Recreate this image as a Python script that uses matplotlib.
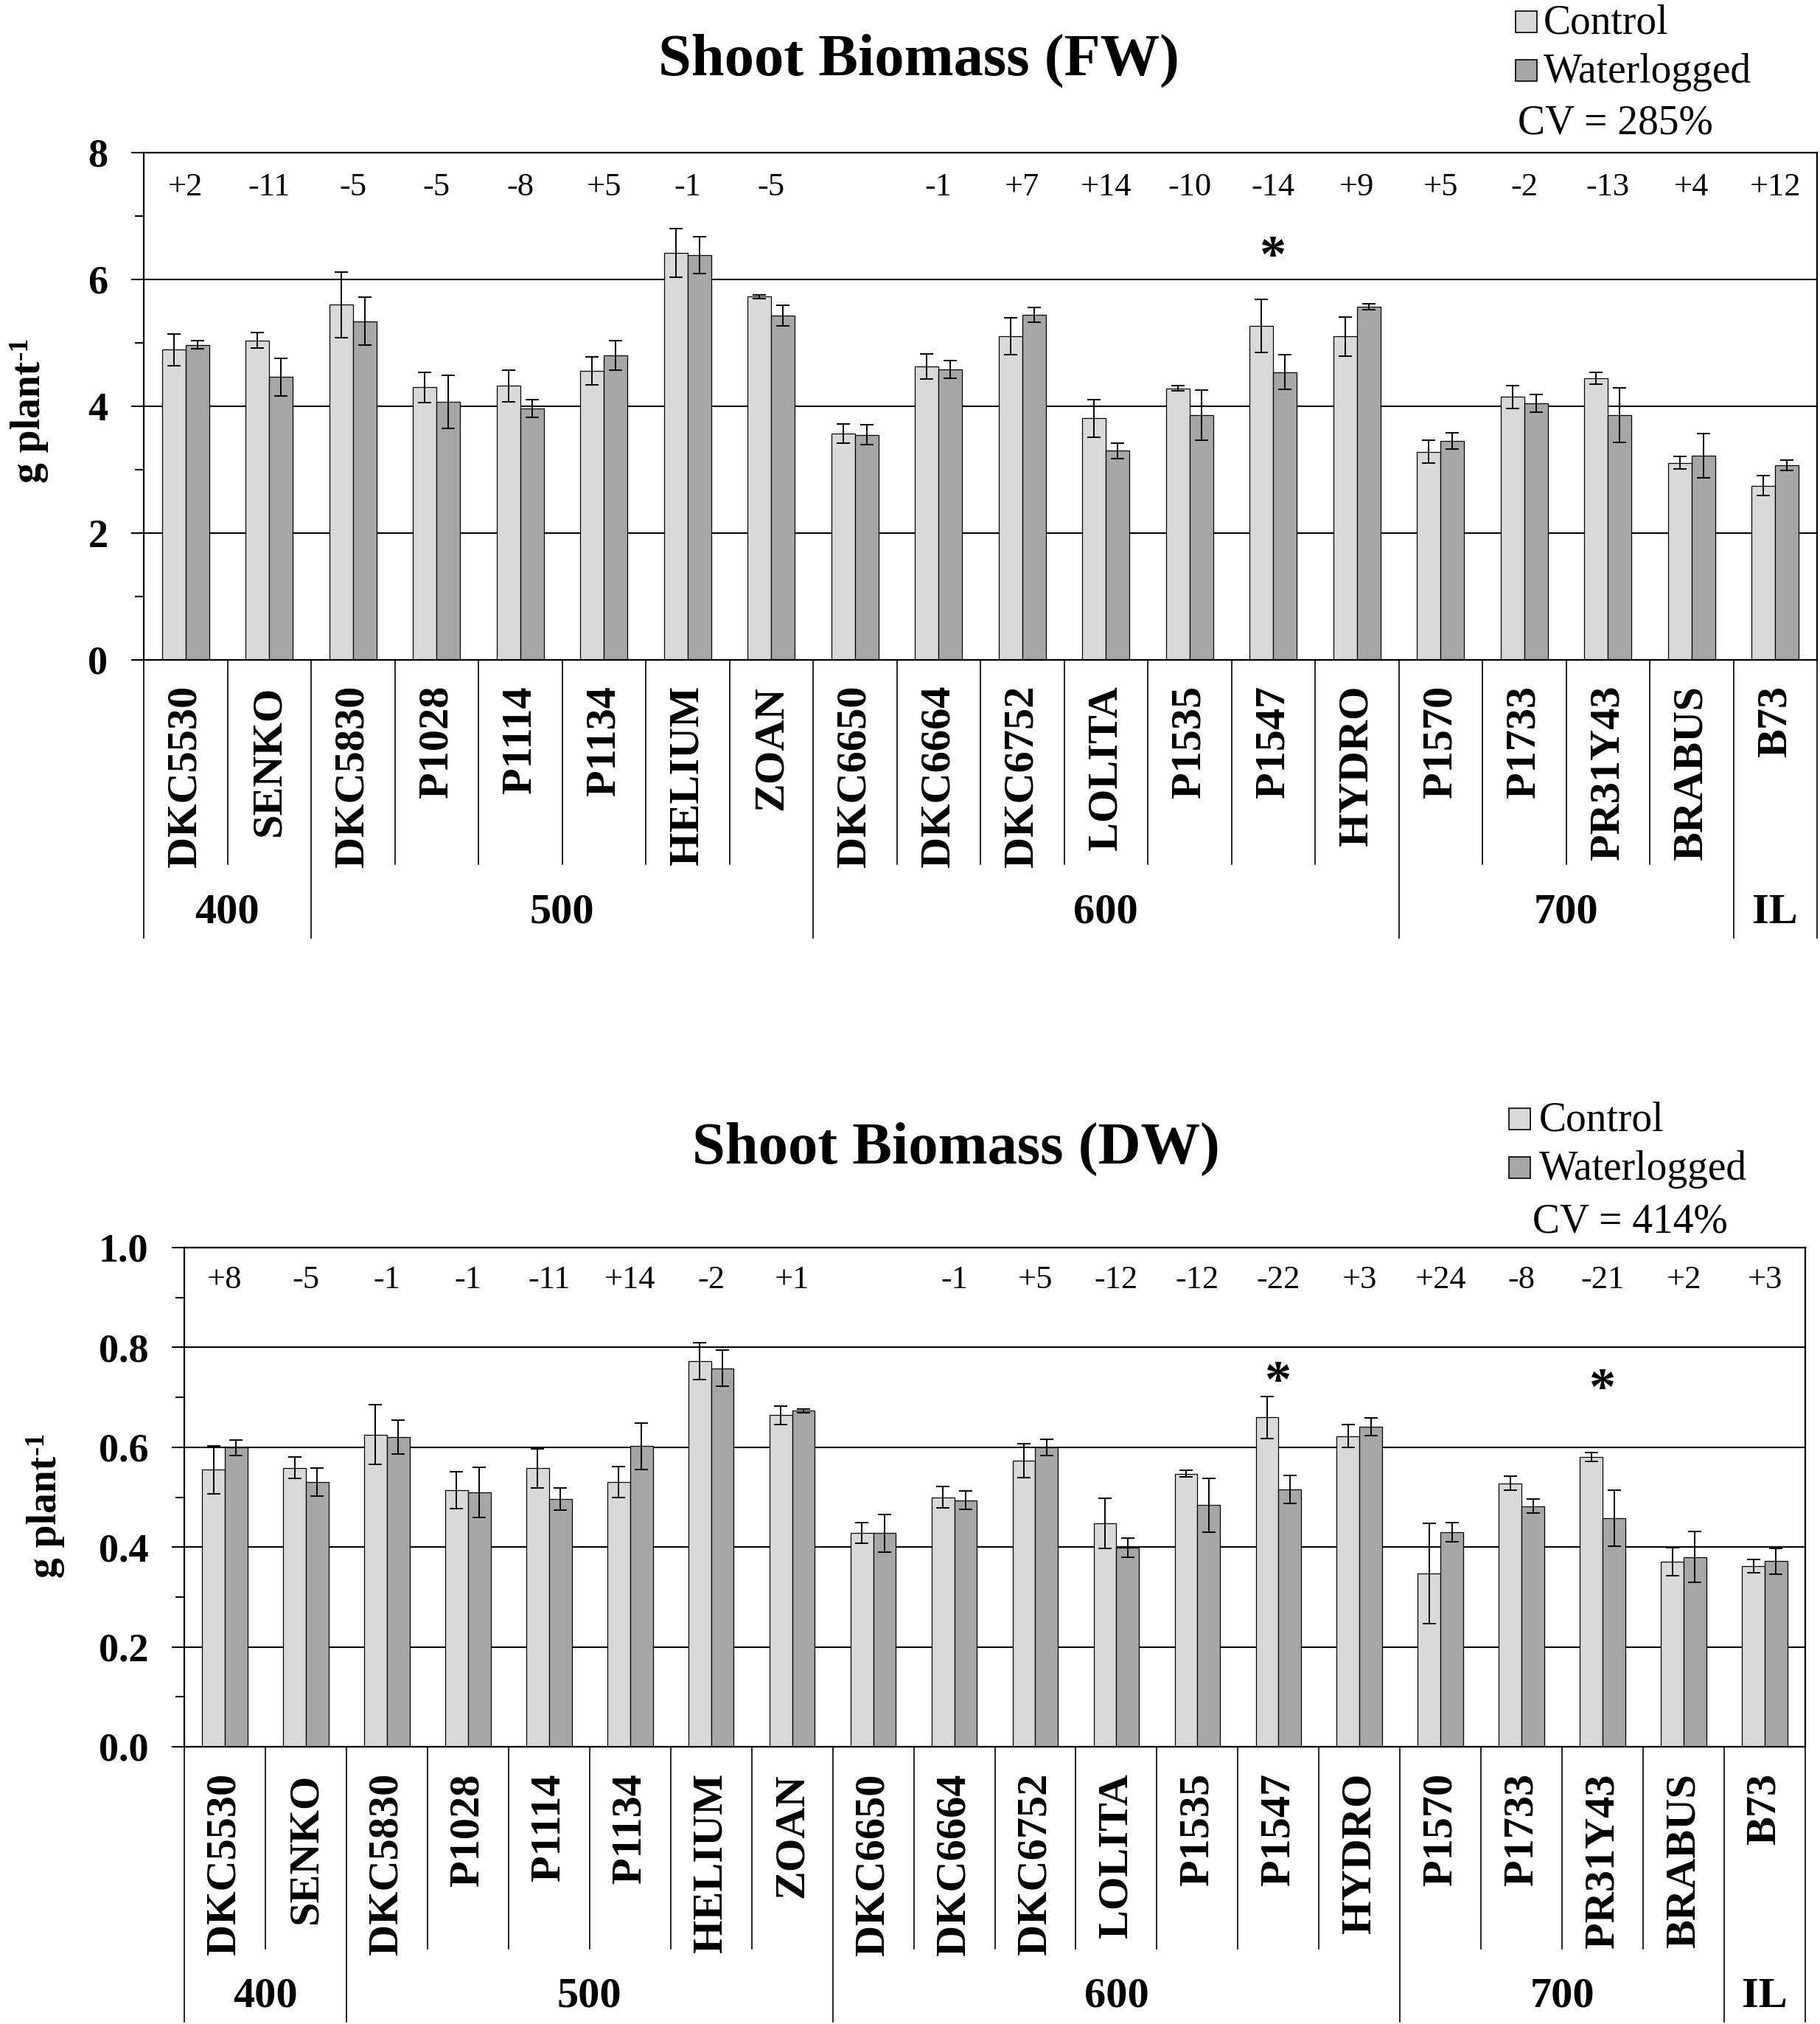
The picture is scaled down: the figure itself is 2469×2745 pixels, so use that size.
import matplotlib
matplotlib.use("Agg")
import matplotlib.pyplot as plt
import numpy as np
from matplotlib.transforms import blended_transform_factory
from matplotlib.patches import Rectangle
from matplotlib.ticker import MultipleLocator, FormatStrFormatter

plt.rcParams['font.family'] = ['Liberation Serif', 'DejaVu Serif']

# ---------------- data ----------------
hybrids = ["DKC5530", "SENKO", "DKC5830", "P1028", "P1114", "P1134", "HELIUM", "ZOAN",
           "DKC6650", "DKC6664", "DKC6752", "LOLITA", "P1535", "P1547", "HYDRO",
           "P1570", "P1733", "PR31Y43", "BRABUS", "B73"]
groups = ["400", "500", "600", "700", "IL"]
group_sizes = [2, 6, 7, 4, 1]

fw_control = [4.89, 5.04, 5.60, 4.30, 4.32, 4.56, 6.42, 5.73, 3.57, 4.63,
              5.10, 3.81, 4.28, 5.27, 5.10, 3.28, 4.15, 4.44, 3.11, 2.75]
fw_control_err = [0.25, 0.12, 0.52, 0.24, 0.25, 0.22, 0.38, 0.03, 0.15, 0.20,
                  0.29, 0.30, 0.04, 0.42, 0.31, 0.18, 0.18, 0.09, 0.10, 0.16]
fw_water = [4.97, 4.46, 5.34, 4.07, 3.97, 4.80, 6.38, 5.43, 3.55, 4.58,
            5.44, 3.30, 3.86, 4.54, 5.57, 3.45, 4.05, 3.86, 3.22, 3.07]
fw_water_err = [0.06, 0.30, 0.38, 0.42, 0.14, 0.23, 0.29, 0.16, 0.16, 0.14,
                0.12, 0.12, 0.40, 0.27, 0.05, 0.13, 0.14, 0.43, 0.35, 0.08]
fw_change = ["+2", "-11", "-5", "-5", "-8", "+5", "-1", "-5", "", "-1",
             "+7", "+14", "-10", "-14", "+9", "+5", "-2", "-13", "+4", "+12"]
fw_signif = ["P1547"]
fw_cv = "CV = 285%"

dw_control = [0.555, 0.559, 0.625, 0.514, 0.558, 0.530, 0.773, 0.664, 0.428, 0.500,
              0.573, 0.448, 0.547, 0.660, 0.622, 0.347, 0.528, 0.580, 0.371, 0.362]
dw_control_err = [0.048, 0.021, 0.060, 0.037, 0.039, 0.031, 0.037, 0.019, 0.021, 0.021,
                  0.034, 0.050, 0.007, 0.042, 0.023, 0.101, 0.014, 0.009, 0.028, 0.013]
dw_water = [0.599, 0.530, 0.620, 0.510, 0.496, 0.602, 0.758, 0.673, 0.428, 0.494,
            0.600, 0.399, 0.484, 0.516, 0.641, 0.430, 0.482, 0.458, 0.380, 0.372]
dw_water_err = [0.015, 0.028, 0.034, 0.050, 0.022, 0.047, 0.036, 0.004, 0.038, 0.019,
                0.016, 0.019, 0.054, 0.028, 0.018, 0.019, 0.014, 0.056, 0.051, 0.026]
dw_change = ["+8", "-5", "-1", "-1", "-11", "+14", "-2", "+1", "", "-1",
             "+5", "-12", "-12", "-22", "+3", "+24", "-8", "-21", "+2", "+3"]
dw_signif = ["P1547", "PR31Y43"]
dw_cv = "CV = 414%"

# ---------------- layout ----------------
W, H = 2469, 2745
fig = plt.figure(figsize=(W / 100, H / 100), dpi=100)
renderer = fig.canvas.get_renderer()


def fx(px):
    return px / W


def fy(py):
    return 1 - py / H


C_COL = "#d9d9d9"
W_COL = "#a6a6a6"


def panel(rect_px, ylim, major, minor, fmt, ctrl, ctrl_e, wat, wat_e, change, change_y,
          signif, star_y, title, title_xy, leg, ylab_xy, lab_top, inner_end, outer_end,
          group_y):
    left, top, right, bottom = rect_px
    ax = fig.add_axes([fx(left), fy(bottom), fx(right - left), (bottom - top) / H])
    x = np.arange(len(hybrids))
    bw = 0.28
    ax.bar(x - bw / 2, ctrl, bw, color=C_COL, edgecolor="black", linewidth=0.9, zorder=2)
    ax.bar(x + bw / 2, wat, bw, color=W_COL, edgecolor="black", linewidth=0.9, zorder=2)
    ax.errorbar(x - bw / 2, ctrl, yerr=ctrl_e, fmt="none", ecolor="black",
                elinewidth=1.4, capsize=6.5, capthick=1.4, zorder=3)
    ax.errorbar(x + bw / 2, wat, yerr=wat_e, fmt="none", ecolor="black",
                elinewidth=1.4, capsize=6.5, capthick=1.4, zorder=3)
    ax.set_xlim(-0.5, len(hybrids) - 0.5)
    ax.set_ylim(*ylim)
    ax.yaxis.set_major_locator(MultipleLocator(major))
    ax.yaxis.set_minor_locator(MultipleLocator(minor))
    ax.yaxis.set_major_formatter(FormatStrFormatter(fmt))
    ax.set_xticks([])
    ax.tick_params(axis="y", which="major", direction="out", length=12, width=1.5,
                   pad=23, labelsize=39)
    ax.tick_params(axis="y", which="minor", direction="out", length=9, width=1.5)
    for lab in ax.get_yticklabels():
        lab.set_fontweight("bold")
    ax.yaxis.grid(True, which="major", color="black", linewidth=1.5)
    ax.set_axisbelow(True)
    for sp in ax.spines.values():
        sp.set_linewidth(1.6)

    for i, s in enumerate(change):
        if s:
            ax.text(i, change_y, s, ha="center", va="center", fontsize=32)
    for name, sy in zip(signif, star_y):
        ax.text(hybrids.index(name), sy, "*", ha="center", va="baseline",
                fontsize=52, fontweight="bold")

    trans = blended_transform_factory(ax.transData, fig.transFigure)
    y_axis = fy(bottom)
    bounds = np.concatenate([[0], np.cumsum(group_sizes)]) - 0.5
    for b in np.arange(len(hybrids) + 1) - 0.5:
        end = outer_end if np.any(np.isclose(bounds, b)) else inner_end
        ax.plot([b, b], [y_axis, fy(end)], color="black", linewidth=1.2,
                transform=trans, clip_on=False)
    for i, name in enumerate(hybrids):
        ax.text(i, fy(lab_top), name, rotation=90, ha="center", va="top",
                fontsize=42, fontweight="bold", transform=trans)
    for g, lo, hi in zip(groups, bounds[:-1], bounds[1:]):
        ax.text((lo + hi) / 2, fy(group_y), g, ha="center", va="center",
                fontsize=42, fontweight="bold", transform=trans)

    fig.text(fx(title_xy[0]), fy(title_xy[1]), title, ha="center", va="baseline",
             fontsize=58, fontweight="bold")

    # y label "g plant" with superscript "-1"
    yl_x, yl_top, yl_bot = ylab_xy
    main = fig.text(fx(yl_x), fy(yl_bot), "g plant", rotation=90, ha="center",
                    va="bottom", fontsize=40, fontweight="bold")
    ext = main.get_window_extent(renderer=renderer)
    fig.text((ext.x0 - 4) / W, (ext.y1 + 2) / H, "-1", rotation=90, ha="left",
             va="bottom", fontsize=27, fontweight="bold")

    (sq_x, c_base, w_base, cv_base, text_x, cv_x, cv_label) = leg
    sq = 29
    for col, base, label in [(C_COL, c_base, "Control"), (W_COL, w_base, "Waterlogged")]:
        fig.patches.append(Rectangle((fx(sq_x), fy(base)), sq / W, sq / H,
                                     facecolor=col, edgecolor="black", linewidth=1.2,
                                     transform=fig.transFigure))
        fig.text(fx(text_x), fy(base + 2), label, ha="left", va="baseline", fontsize=40)
    fig.text(fx(cv_x), fy(cv_base), cv_label, ha="left", va="baseline", fontsize=40)
    return ax


panel((195, 207, 2465, 895), (0, 8), 2, 1, "%d",
      fw_control, fw_control_err, fw_water, fw_water_err, fw_change, 7.45,
      fw_signif, [6.13], "Shoot Biomass (FW)", (1246, 102),
      (2056, 44, 110, 182, 2094, 2059, fw_cv), (40, 459, 655), 930, 1172, 1272, 1238)

panel((250, 1692, 2449, 2369), (0, 1.0), 0.2, 0.1, "%.1f",
      dw_control, dw_control_err, dw_water, dw_water_err, dw_change, 0.935,
      dw_signif, [0.702, 0.687], "Shoot Biomass (DW)", (1297, 1578),
      (2047, 1532, 1598, 1672, 2088, 2079, dw_cv), (62, 1940, 2140), 2405, 2643, 2742, 2708)

fig.savefig("out.png", dpi=100)
